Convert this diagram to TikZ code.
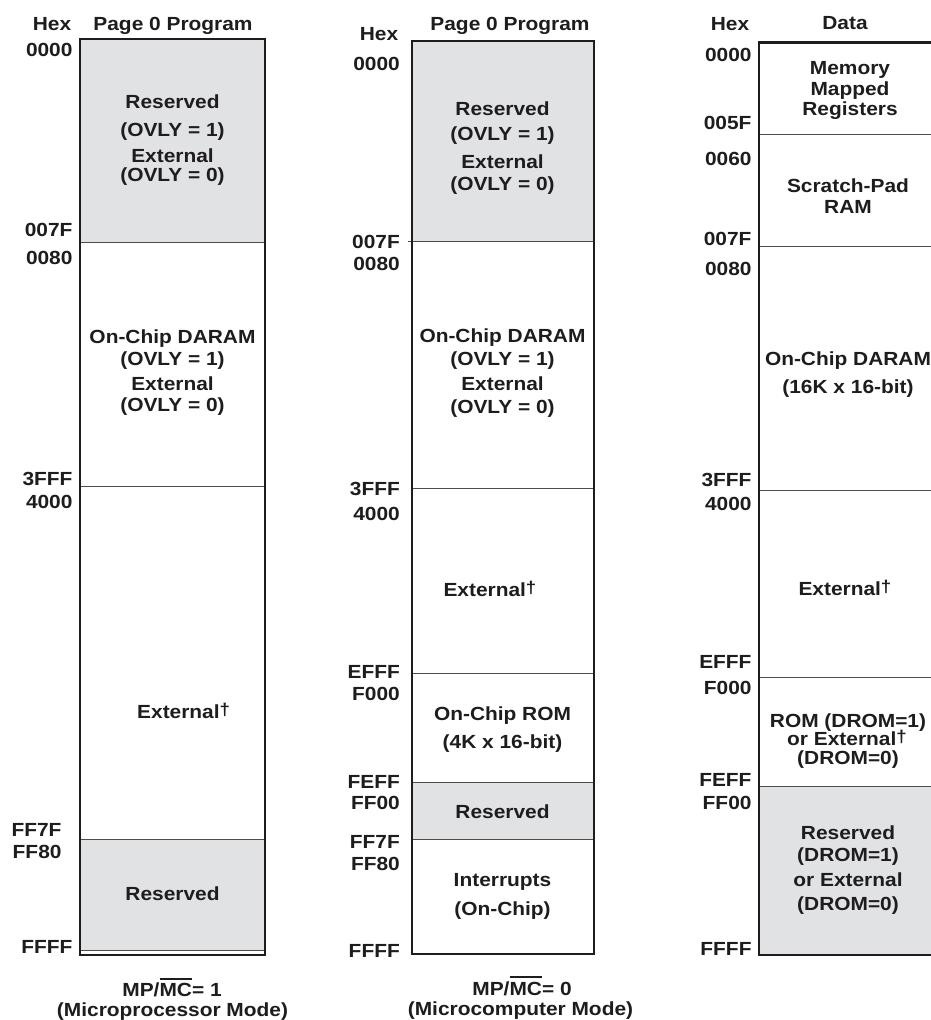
\documentclass[tikz,border=0pt]{standalone}
\usepackage{fontspec}
\setmainfont{Liberation Sans}[FakeStretch=1.1]
\definecolor{resgray}{RGB}{225,226,228}
\definecolor{ink}{RGB}{30,28,30}
\newcommand\mapf{\fontsize{19}{22}\selectfont\bfseries}
\newcommand\mydag{\smash{\raisebox{3pt}{\fontsize{17}{17}\selectfont\bfseries\char"2020}}}
\newcommand\ovbar[1]{\leavevmode\setbox0\hbox{#1}\rlap{\rule[\dimexpr\ht0+3.5pt\relax]{\wd0}{2pt}}\box0}
\begin{document}
\begin{tikzpicture}[
  x=1pt, y=-1pt,
  txt/.style={font=\mapf, text=ink, inner sep=0pt, anchor=base},
  txtw/.style={font=\mapf, text=ink, inner sep=0pt, anchor=base west},
  addr/.style={font=\mapf, text=ink, inner sep=0pt, anchor=base east},
  frame/.style={line width=2.8pt, draw=ink},
  divider/.style={line width=1pt, draw=black!70},
  resfill/.style={fill=resgray}
]
\useasboundingbox (0,0) rectangle (930,1020);

% ---------------- Map 1 ----------------
\fill[resfill] (80,39) rectangle (265,242);
\fill[resfill] (80,839) rectangle (265,950);
\draw[divider] (80,242) -- (265,242);
\draw[divider] (80,486.7) -- (265,486.7);
\draw[divider] (80,839) -- (265,839);
\draw[divider] (80,950.5) -- (265,950.5);
\draw[frame] (80,39) rectangle (265,955);

\node[txt] (h1) at (52,30.7) {Hex};
\node[txt] (t1) at (173,30) {Page 0 Program};
\node[addr] (a1a) at (72.7,56.7) {0000};
\node[addr] (a1b) at (72.7,236) {007F};
\node[addr] (a1c) at (72.7,264) {0080};
\node[addr] (a1d) at (72.7,485) {3FFF};
\node[addr] (a1e) at (72.7,508.3) {4000};
\node[addr] (a1f) at (61.7,836) {FF7F};
\node[addr] (a1g) at (61.7,858) {FF80};
\node[addr] (a1h) at (72.7,953) {FFFF};

\node[txt] (r1a) at (172.5,108.3) {Reserved};
\node[txt] (r1b) at (172.5,136.7) {(OVLY = 1)};
\node[txt] (r1c) at (172.5,162.3) {External};
\node[txt] (r1d) at (172.5,181.7) {(OVLY = 0)};
\node[txt] (d1a) at (172.5,343.3) {On-Chip DARAM};
\node[txt] (d1b) at (172.5,365) {(OVLY = 1)};
\node[txt] (d1c) at (172.5,390) {External};
\node[txt] (d1d) at (172.5,411.7) {(OVLY = 0)};
\node[txtw] (e1) at (137,718.3) {External\mydag};
\node[txt] (s1) at (172.5,900.7) {Reserved};

\node[txt] (c1a) at (172,996.7) {MP/\ovbar{MC}= 1};
\node[txt] (c1b) at (172.5,1016.7) {(Microprocessor Mode)};

% ---------------- Map 2 ----------------
\fill[resfill] (412,41) rectangle (594,241.3);
\fill[resfill] (412,782.7) rectangle (594,839);
\draw[divider] (408,241.3) -- (594,241.3);
\draw[divider] (412,488.7) -- (594,488.7);
\draw[divider] (412,673.3) -- (594,673.3);
\draw[divider] (412,782.7) -- (594,782.7);
\draw[divider] (412,839) -- (594,839);
\draw[frame] (412,41) rectangle (594,954);

\node[txt] (h2) at (379,40) {Hex};
\node[txt] (t2) at (510,30) {Page 0 Program};
\node[addr] (a2a) at (400,70) {0000};
\node[addr] (a2b) at (400,248.3) {007F};
\node[addr] (a2c) at (400,270) {0080};
\node[addr] (a2d) at (400,495) {3FFF};
\node[addr] (a2e) at (400,520) {4000};
\node[addr] (a2f) at (400,678.3) {EFFF};
\node[addr] (a2g) at (400,700.7) {F000};
\node[addr] (a2h) at (400,788.3) {FEFF};
\node[addr] (a2i) at (400,809) {FF00};
\node[addr] (a2j) at (400,848.3) {FF7F};
\node[addr] (a2k) at (400,870.7) {FF80};
\node[addr] (a2l) at (400,957) {FFFF};

\node[txt] (r2a) at (502.5,115) {Reserved};
\node[txt] (r2b) at (502.5,140) {(OVLY = 1)};
\node[txt] (r2c) at (502.5,168.3) {External};
\node[txt] (r2d) at (502.5,190) {(OVLY = 0)};
\node[txt] (d2a) at (502.5,342.7) {On-Chip DARAM};
\node[txt] (d2b) at (502.5,365) {(OVLY = 1)};
\node[txt] (d2c) at (502.5,390.7) {External};
\node[txt] (d2d) at (502.5,413.3) {(OVLY = 0)};
\node[txtw] (e2) at (443.3,596.7) {External\mydag};
\node[txt] (o2a) at (502.5,720.7) {On-Chip ROM};
\node[txt] (o2b) at (502.5,748.3) {(4K x 16-bit)};
\node[txt] (s2) at (502.5,818.3) {Reserved};
\node[txt] (i2a) at (502.5,886.7) {Interrupts};
\node[txt] (i2b) at (502.5,915) {(On-Chip)};

\node[txt] (c2a) at (522,995) {MP/\ovbar{MC}= 0};
\node[txt] (c2b) at (520.5,1015) {(Microcomputer Mode)};

% ---------------- Map 3 ----------------
\fill[resfill] (759,786.7) rectangle (940,955);
\draw[divider] (759,134) -- (940,134);
\draw[divider] (759,246) -- (940,246);
\draw[divider] (759,490) -- (940,490);
\draw[divider] (759,677.3) -- (940,677.3);
\draw[divider] (759,786.7) -- (940,786.7);
\draw[frame] (759,42.3) rectangle (945,955);

\node[txt] (h3) at (730,30.7) {Hex};
\node[txt] (t3) at (845,29.3) {Data};
\node[addr] (a3a) at (751.7,61) {0000};
\node[addr] (a3b) at (751.7,129.3) {005F};
\node[addr] (a3c) at (751.7,165) {0060};
\node[addr] (a3d) at (751.7,245) {007F};
\node[addr] (a3e) at (751.7,275) {0080};
\node[addr] (a3f) at (751.7,486.7) {3FFF};
\node[addr] (a3g) at (751.7,510) {4000};
\node[addr] (a3h) at (751.7,668.3) {EFFF};
\node[addr] (a3i) at (751.7,694) {F000};
\node[addr] (a3j) at (751.7,786.7) {FEFF};
\node[addr] (a3k) at (751.7,809.3) {FF00};
\node[addr] (a3l) at (751.7,955) {FFFF};

\node[txt] (m3a) at (850,74) {Memory};
\node[txt] (m3b) at (850,95.7) {Mapped};
\node[txt] (m3c) at (850,115) {Registers};
\node[txt] (p3a) at (848,192.7) {Scratch-Pad};
\node[txt] (p3b) at (848,213.3) {RAM};
\node[txt] (d3a) at (848,365) {On-Chip DARAM};
\node[txt] (d3b) at (848,393.3) {(16K x 16-bit)};
\node[txtw] (e3) at (798.3,595) {External\mydag};
\node[txt] (o3a) at (848,727) {ROM (DROM=1)};
\node[txt] (o3b) at (847,745.5) {or External\mydag};
\node[txt] (o3c) at (848,764.5) {(DROM=0)};
\node[txt] (s3a) at (848,839) {Reserved};
\node[txt] (s3b) at (848,861.7) {(DROM=1)};
\node[txt] (s3c) at (848,886.7) {or External};
\node[txt] (s3d) at (848,910) {(DROM=0)};
\end{tikzpicture}
\end{document}
